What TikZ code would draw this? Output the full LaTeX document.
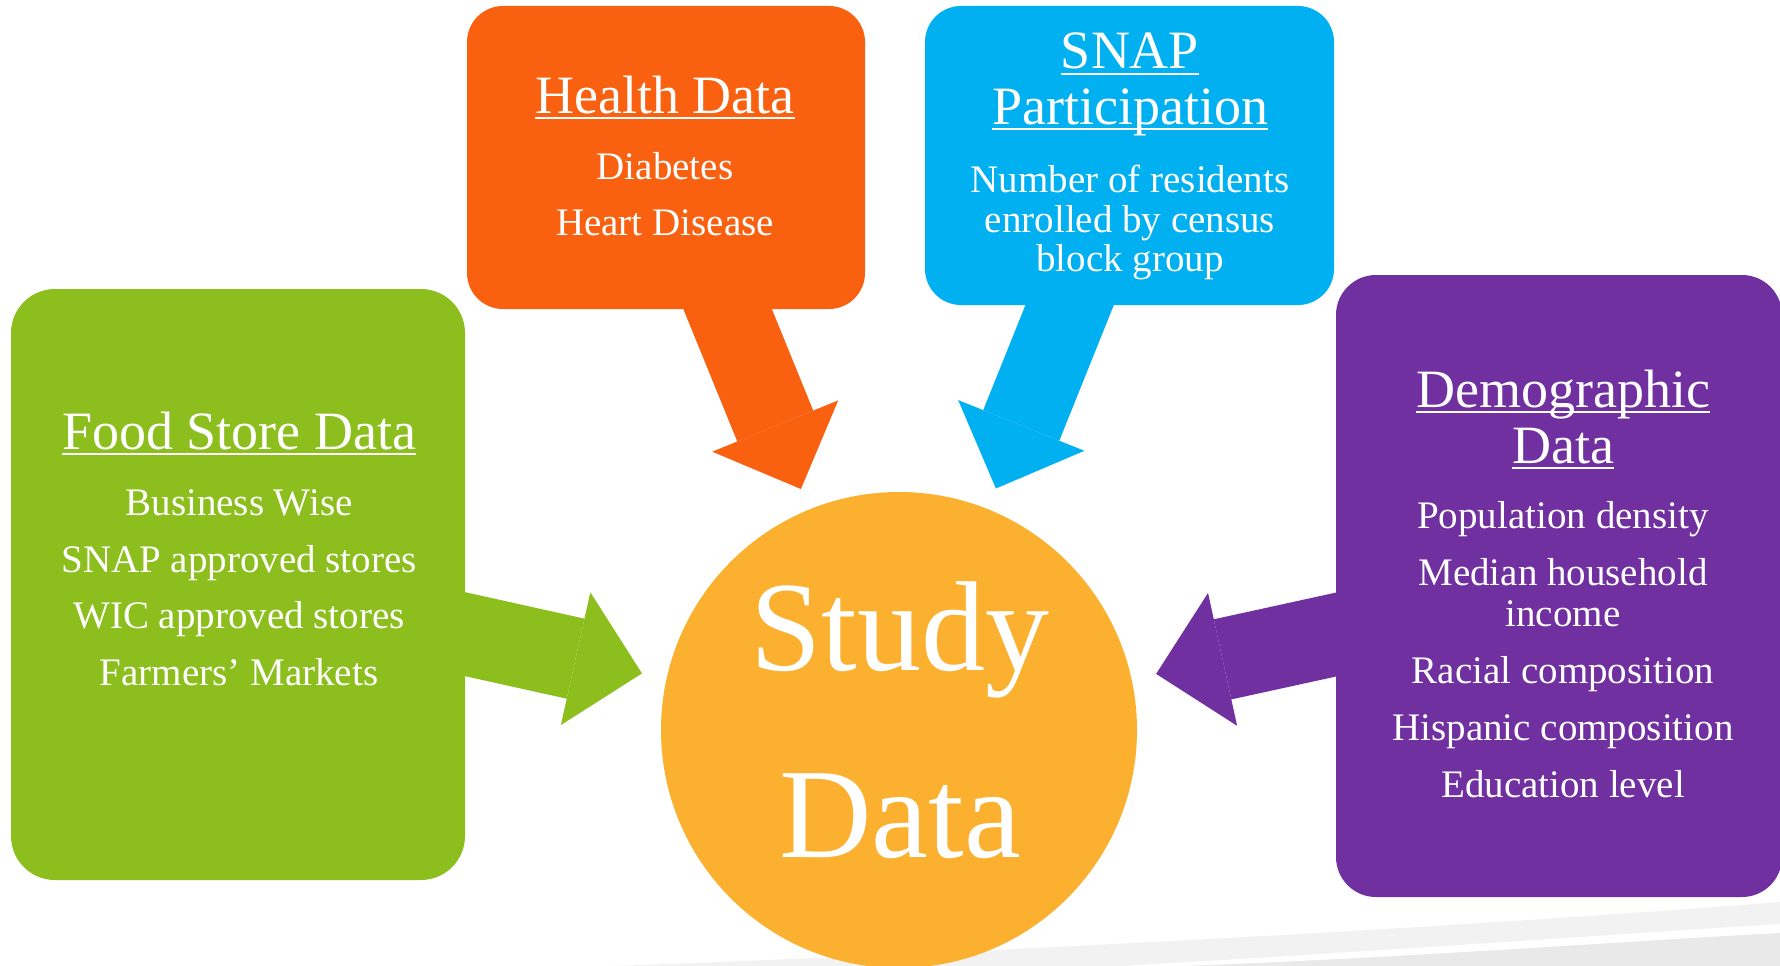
\documentclass[tikz,border=0pt]{standalone}
\usepackage{fontspec}
\setmainfont{Liberation Serif}
\usetikzlibrary{arrows.meta}

\definecolor{healthC}{HTML}{F9600F}
\definecolor{snapC}{HTML}{00B0F0}
\definecolor{foodC}{HTML}{8CBF1E}
\definecolor{demoC}{HTML}{7030A0}
\definecolor{studyC}{HTML}{FBB12F}
\definecolor{swooshC}{HTML}{F2F2F2}
\definecolor{swooshD}{HTML}{E9E9E9}

\begin{document}
\begin{tikzpicture}[x=1pt,y=-1pt,
  box/.style={rounded corners=36pt, inner sep=0pt},
  fat/.style={line width=82pt, shorten >=22pt, shorten <=-20pt,
    -{Triangle[width=136pt,length=68pt,line width=0pt]}},
  head/.style={text=white, inner sep=0pt, anchor=base, font=\fontsize{54}{60}\selectfont},
  item/.style={text=white, inner sep=0pt, anchor=base, font=\fontsize{39}{45}\selectfont},
  big/.style={text=white, inner sep=0pt, anchor=base, font=\fontsize{128}{140}\selectfont},
  uline/.style={white, line width=2.5pt}
]
    \useasboundingbox (0,0) rectangle (1780,966);
    % grey swoosh at the bottom
    \fill[swooshC] (613,966) .. controls (1000,952) and (1450,928) .. (1780,902) -- (1780,966) -- cycle;
    \fill[white] (1120,966) .. controls (1400,950) and (1600,935) .. (1780,924) -- (1780,933) .. controls (1600,943) and (1400,958) .. (1185,966) -- cycle;
    \fill[swooshD] (1185,966) .. controls (1400,958) and (1600,943) .. (1780,933) -- (1780,966) -- cycle;

    \node[box, fill=healthC, minimum width=398pt, minimum height=303pt] (health) at (666,157.5) {};
    \node[box, fill=snapC, minimum width=409pt, minimum height=299pt] (snap) at (1129.5,155.5) {};
    \node[box, fill=foodC, minimum width=454pt, minimum height=591pt, rounded corners=44pt] (food) at (238,584.5) {};
    \node[box, fill=demoC, minimum width=446pt, minimum height=622pt, rounded corners=40pt] (demo) at (1559,586) {};
    \node[circle, fill=studyC, minimum size=476pt, inner sep=0pt] (study) at (899,730) {};

    \draw[fat, healthC] (health) -- (study);
    \draw[fat, snapC] (snap) -- (study);
    \draw[fat, foodC, shorten >=25pt] (food) -- (study);
    \draw[fat, demoC, shorten >=25pt] (demo) -- (study);

    \node[head] (healthT) at (665,113) {Health Data};
    \node[item] (diab) at (665,179) {Diabetes};
    \node[item] (heart) at (665,235) {Heart Disease};

    \node[head] (snapT) at (1130,69) {SNAP};
    \node[head] (partT) at (1130,124) {Participation};
    \node[item] (nres) at (1130,192) {Number of residents};
    \node[item] (enrol) at (1130,232) {enrolled by census};
    \node[item] (block) at (1130,271) {block group};

    \node[head] (foodT) at (239,449) {Food Store Data};
    \node[item] (bwise) at (239,515) {Business Wise};
    \node[item] (snapst) at (239,572) {SNAP approved stores};
    \node[item] (wicst) at (239,628) {WIC approved stores};
    \node[item] (farm) at (239,685) {Farmers’ Markets};

    \node[head] (demoT) at (1563,407) {Demographic};
    \node[head] (demoT2) at (1563,463) {Data};
    \node[item] (popd) at (1563,528) {Population density};
    \node[item] (medh) at (1563,585) {Median household};
    \node[item] (income) at (1563,626) {income};
    \node[item] (racial) at (1563,683) {Racial composition};
    \node[item] (hisp) at (1563,740) {Hispanic composition};
    \node[item] (edu) at (1563,797) {Education level};

    \node[big] (studyT) at (900,670) {Study};
    \node[big] (studyT2) at (900,857) {Data};

    \draw[uline] ([yshift=-5pt]healthT.base west) -- ([yshift=-5pt]healthT.base east);
    \draw[uline] ([yshift=-5pt]snapT.base west) -- ([yshift=-5pt]snapT.base east);
    \draw[uline] ([yshift=-5pt]partT.base west) -- ([yshift=-5pt]partT.base east);
    \draw[uline] ([yshift=-5pt]foodT.base west) -- ([yshift=-5pt]foodT.base east);
    \draw[uline] ([yshift=-5pt]demoT.base west) -- ([yshift=-5pt]demoT.base east);
    \draw[uline] ([yshift=-5pt]demoT2.base west) -- ([yshift=-5pt]demoT2.base east);
\end{tikzpicture}
\end{document}
